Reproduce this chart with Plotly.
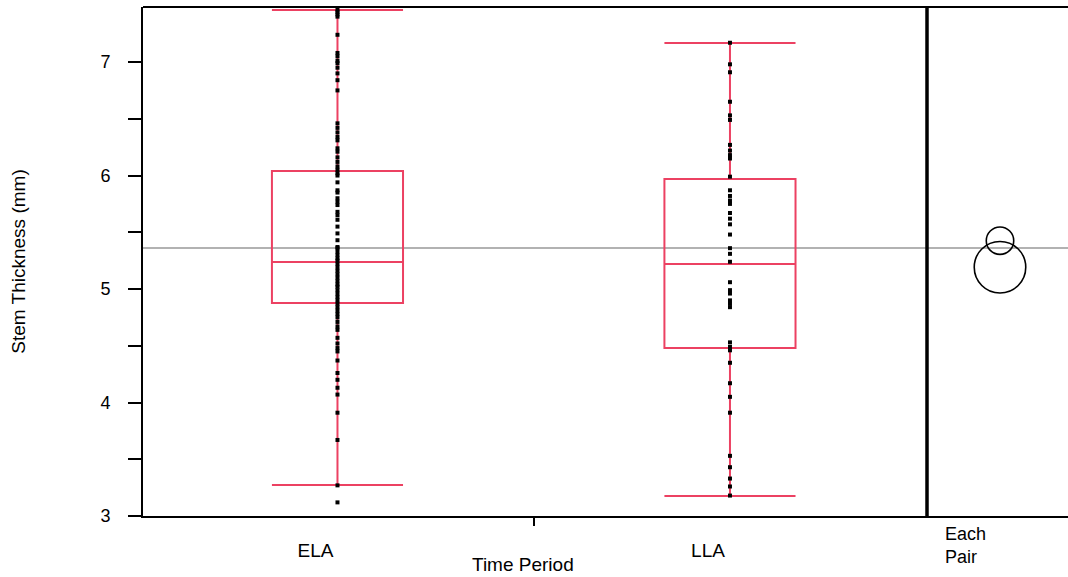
import plotly.graph_objects as go

# Stem thickness measurements (mm) by time period
ela_values = [7.46, 7.44, 7.42, 7.40, 7.24, 7.08, 7.05, 7.01, 6.99, 6.95, 6.90, 6.84, 6.75,
              6.46, 6.42, 6.38, 6.34, 6.31, 6.24, 6.21, 6.16, 6.12, 6.08, 6.05, 6.02, 6.00,
              5.94, 5.87, 5.85, 5.80, 5.77, 5.74, 5.68, 5.65, 5.61, 5.55, 5.49, 5.43, 5.37,
              5.36, 5.33, 5.30, 5.27, 5.25, 5.22, 5.19, 5.16, 5.13, 5.10, 5.07, 5.04, 5.02,
              4.99, 4.96, 4.93, 4.90, 4.87, 4.84, 4.81, 4.78, 4.75, 4.71, 4.67, 4.64, 4.57,
              4.52, 4.48, 4.45, 4.37, 4.26, 4.20, 4.13, 4.07, 3.91, 3.67, 3.27, 3.12]
lla_values = [7.17, 6.98, 6.91, 6.65, 6.53, 6.49, 6.27, 6.22, 6.18, 6.15, 5.99, 5.87, 5.82,
              5.78, 5.75, 5.67, 5.62, 5.57, 5.48, 5.36, 5.31, 5.24, 5.06, 4.99, 4.96, 4.90,
              4.87, 4.84, 4.53, 4.49, 4.46, 4.35, 4.17, 4.05, 3.91, 3.53, 3.43, 3.33, 3.26, 3.18]

groups = ["ELA", "LLA"]
group_pos = [0, 1]

# Quantile box summaries
box_q1 = [4.877, 4.480]
box_median = [5.238, 5.220]
box_q3 = [6.040, 5.969]
box_lower = [3.273, 3.176]
box_upper = [7.458, 7.167]

# Comparison circles (Each Pair, Student's t): group means and circle radii
circle_means = [5.426, 5.192]
circle_radii = [0.121, 0.227]
grand_mean = 5.361

y_range = [3.0, 7.485]

W, H = 1068, 577
ML, MR, MT, MB = 143, 0, 7, 61
plot_w = W - ML - MR
plot_h = H - MT - MB
split = 784 / plot_w          # main panel share of the width
px_per_unit = plot_h / (y_range[1] - y_range[0])

box_color = "#EC4162"
font_family = "Liberation Sans, Arial, sans-serif"

fig = go.Figure()

for name, pos, q1, med, q3, lo, hi in zip(groups, group_pos, box_q1, box_median,
                                           box_q3, box_lower, box_upper):
    fig.add_trace(go.Box(
        x=[pos], q1=[q1], median=[med], q3=[q3], lowerfence=[lo], upperfence=[hi],
        width=0.334, whiskerwidth=1, boxpoints=False, orientation="v",
        fillcolor="rgba(0,0,0,0)", line=dict(color=box_color, width=2),
        name=name, showlegend=False, hoverinfo="skip",
    ))

for pos, vals in zip(group_pos, [ela_values, lla_values]):
    fig.add_trace(go.Scatter(
        x=[pos] * len(vals), y=vals, mode="markers",
        marker=dict(symbol="square", size=4, color="black", line=dict(width=0)),
        showlegend=False,
    ))

# Comparison panel x-axis uses the same pixel scale as y so circles stay round
panel_w = plot_w * (1 - split)
left_off = 73
x2_range = [-left_off / px_per_unit, (panel_w - left_off) / px_per_unit]

shapes = []
for m, r in zip(circle_means, circle_radii):
    shapes.append(dict(type="circle", xref="x2", yref="y", x0=-r, x1=r, y0=m - r, y1=m + r,
                       line=dict(color="black", width=1.6)))

shapes += [
    dict(type="line", xref="paper", yref="y", x0=0, x1=1, y0=grand_mean, y1=grand_mean,
         line=dict(color="#999999", width=1.5), layer="below"),
    dict(type="line", xref="paper", yref="paper", x0=split, x1=split, y0=0, y1=1,
         line=dict(color="black", width=3.5)),
    dict(type="line", xref="paper", yref="paper", x0=0, x1=1, y0=1, y1=1,
         line=dict(color="black", width=2)),
]

fig.update_layout(
    width=W, height=H,
    margin=dict(l=ML, r=MR, t=MT, b=MB, pad=0),
    paper_bgcolor="white", plot_bgcolor="white",
    font=dict(family=font_family, color="black", size=19),
    shapes=shapes,
    xaxis=dict(
        domain=[0, split], range=[-0.4955, 1.502],
        tickvals=group_pos, ticktext=groups, ticks="", ticklabelshift=-22,
        ticklabelstandoff=16,
        minor=dict(tickvals=[0.5], ticks="outside", ticklen=8, tickwidth=1.5, tickcolor="black"),
        showgrid=False, zeroline=False, showline=True, linecolor="black", linewidth=2,
        tickfont=dict(size=19),
    ),
    xaxis2=dict(
        domain=[split, 1], range=x2_range, anchor="y",
        showticklabels=False, ticks="", showgrid=False, zeroline=False,
        showline=True, linecolor="black", linewidth=2,
    ),
    yaxis=dict(
        range=y_range, tickvals=[3, 4, 5, 6, 7], ticks="outside", ticklen=13, tickwidth=2,
        tickcolor="black",
        minor=dict(dtick=0.5, tick0=3, ticks="outside", ticklen=13, tickwidth=2, tickcolor="black"),
        showgrid=False, zeroline=False, showline=True, linecolor="black", linewidth=2,
        tickfont=dict(size=18), ticklabelstandoff=14,
        title=dict(text="Stem Thickness (mm)", font=dict(size=19), standoff=70),
    ),
    annotations=[
        dict(text="Time Period", xref="paper", yref="paper", x=(523 - ML) / plot_w,
             y=-(564 - (H - MB)) / plot_h, showarrow=False, font=dict(size=19),
             xanchor="center", yanchor="middle"),
        dict(text="Each<br>Pair", xref="paper", yref="paper", x=(943 - ML) / plot_w,
             y=-(545 - (H - MB)) / plot_h, showarrow=False, font=dict(size=18),
             xanchor="left", yanchor="middle", align="left"),
    ],
)

fig.write_html("out.html")
